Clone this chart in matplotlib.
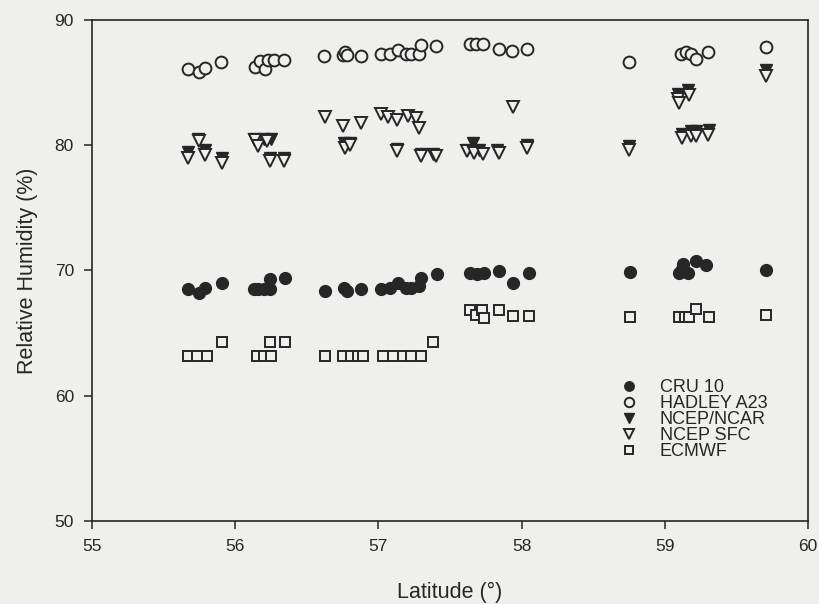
import matplotlib
matplotlib.use('Agg')
import matplotlib.pyplot as plt

# ===== DANE =====
cru_lat = [55.67, 55.75, 55.79, 55.91, 56.13, 56.16, 56.20, 56.24, 56.24, 56.35,
           56.63, 56.76, 56.78, 56.88, 57.02, 57.08, 57.14, 57.19, 57.23, 57.28,
           57.30, 57.41, 57.64, 57.69, 57.74, 57.84, 57.94, 58.05, 58.76,
           59.10, 59.12, 59.13, 59.16, 59.22, 59.29, 59.71]
cru_rh = [68.55, 68.2, 68.6, 69.0, 68.5, 68.5, 68.5, 69.3, 68.5, 69.35,
          68.35, 68.6, 68.35, 68.5, 68.55, 68.6, 69.0, 68.6, 68.6, 68.75,
          69.4, 69.7, 69.8, 69.7, 69.8, 69.95, 69.0, 69.8, 69.9,
          69.8, 70.1, 70.5, 69.8, 70.75, 70.4, 70.05]

had_lat = [55.67, 55.75, 55.79, 55.90, 56.14, 56.17, 56.21, 56.23, 56.27, 56.34,
           56.62, 56.75, 56.77, 56.78, 56.88, 57.02, 57.08, 57.14, 57.19, 57.23,
           57.28, 57.30, 57.40, 57.64, 57.68, 57.73, 57.84, 57.93, 58.04, 58.75,
           59.11, 59.15, 59.18, 59.22, 59.30, 59.71]
had_rh = [86.05, 85.8, 86.15, 86.6, 86.2, 86.7, 86.1, 86.8, 86.8, 86.8,
          87.1, 87.2, 87.4, 87.2, 87.1, 87.25, 87.3, 87.6, 87.3, 87.3,
          87.3, 88.0, 87.9, 88.1, 88.1, 88.1, 87.65, 87.5, 87.7, 86.6,
          87.3, 87.4, 87.3, 86.9, 87.45, 87.85]

ncar_lat = [55.67, 55.74, 55.79, 55.91, 56.13, 56.20, 56.25, 56.24, 56.34,
            56.76, 56.80, 57.13, 57.30, 57.38, 57.66, 57.62, 57.70, 57.83,
            58.04, 58.75, 59.09, 59.16, 59.12, 59.18, 59.22, 59.31, 59.71]
ncar_rh = [79.45, 80.5, 79.6, 78.95, 80.45, 80.45, 80.45, 78.95, 78.95,
           80.2, 80.2, 79.7, 79.3, 79.3, 80.2, 79.6, 79.6, 79.6,
           80.0, 79.9, 84.1, 84.4, 80.9, 81.1, 81.1, 81.2, 86.0]

sfc_lat = [55.67, 55.75, 55.79, 55.91, 56.14, 56.16, 56.22, 56.24, 56.34,
           56.63, 56.75, 56.88, 56.77, 56.80, 57.02, 57.07, 57.13, 57.21,
           57.26, 57.28, 57.13, 57.30, 57.40, 57.94, 57.62, 57.67, 57.73,
           57.84, 58.04, 58.75, 59.09, 59.10, 59.17, 59.12, 59.18, 59.22,
           59.30, 59.71]
sfc_rh = [78.95, 80.3, 79.2, 78.6, 80.4, 79.9, 80.3, 78.7, 78.7,
          82.2, 81.5, 81.75, 79.8, 80.0, 82.5, 82.2, 82.0, 82.3,
          82.15, 81.35, 79.5, 79.1, 79.1, 83.0, 79.5, 79.4, 79.3,
          79.4, 79.8, 79.6, 83.7, 83.35, 84.0, 80.55, 80.7, 80.75,
          80.8, 85.5]

ecm_lat = [55.67, 55.73, 55.80, 55.91, 56.15, 56.20, 56.25, 56.24, 56.35,
           56.63, 56.75, 56.81, 56.86, 56.89, 57.03, 57.10, 57.17, 57.23,
           57.30, 57.38, 57.64, 57.68, 57.72, 57.74, 57.84, 57.94, 58.05,
           58.76, 59.10, 59.14, 59.17, 59.22, 59.31, 59.71]
ecm_rh = [63.15, 63.15, 63.15, 64.25, 63.15, 63.15, 63.15, 64.25, 64.25,
          63.15, 63.15, 63.15, 63.15, 63.15, 63.15, 63.15, 63.15, 63.15,
          63.15, 64.25, 66.8, 66.4, 66.8, 66.2, 66.8, 66.35, 66.35,
          66.3, 66.3, 66.3, 66.3, 66.9, 66.3, 66.4]

x_ticks = [55, 56, 57, 58, 59, 60]
y_ticks = [50, 60, 70, 80, 90]

# ===== STYL =====
BG = '#efefed'
INK = '#262626'
plt.rcParams['font.family'] = ['Liberation Sans', 'DejaVu Sans']

fig = plt.figure(figsize=(8.2, 6.04), dpi=100, facecolor=BG)
ax = fig.add_axes([0.1122, 0.1374, 0.8732, 0.83], facecolor=BG)

ax.plot(cru_lat, cru_rh, 'o', ms=8.5, mfc=INK, mec=INK, mew=1, label='CRU 10')
ax.plot(had_lat, had_rh, 'o', ms=8.5, mfc=BG, mec=INK, mew=1.4, label='HADLEY A23')
ax.plot(ncar_lat, ncar_rh, 'v', ms=8.5, mfc=INK, mec=INK, mew=1, label='NCEP/NCAR')
ax.plot(sfc_lat, sfc_rh, 'v', ms=8.5, mfc=BG, mec=INK, mew=1.4, label='NCEP SFC')
ax.plot(ecm_lat, ecm_rh, 's', ms=7, mfc=BG, mec=INK, mew=1.4, label='ECMWF')

ax.set_xlim(55, 60)
ax.set_ylim(50, 90)
ax.set_xticks(x_ticks)
ax.set_yticks(y_ticks)
ax.tick_params(direction='out', length=6, width=1.1, colors=INK, labelsize=12.5, pad=7)
for s in ax.spines.values():
    s.set_color(INK)
    s.set_linewidth(1.2)

ax.set_xlabel('Latitude (°)', fontsize=15.5, color=INK, labelpad=20)
ax.set_ylabel('Relative Humidity (%)', fontsize=15.5, color=INK, labelpad=12)

leg = ax.legend(loc='upper left', bbox_to_anchor=(0.725, 0.298), frameon=False,
                fontsize=13, markerscale=0.8, handlelength=1.2, handletextpad=1.1,
                labelspacing=-0.05, borderaxespad=0)
for t in leg.get_texts():
    t.set_color(INK)

plt.savefig('out.png', dpi=100, facecolor=BG)
